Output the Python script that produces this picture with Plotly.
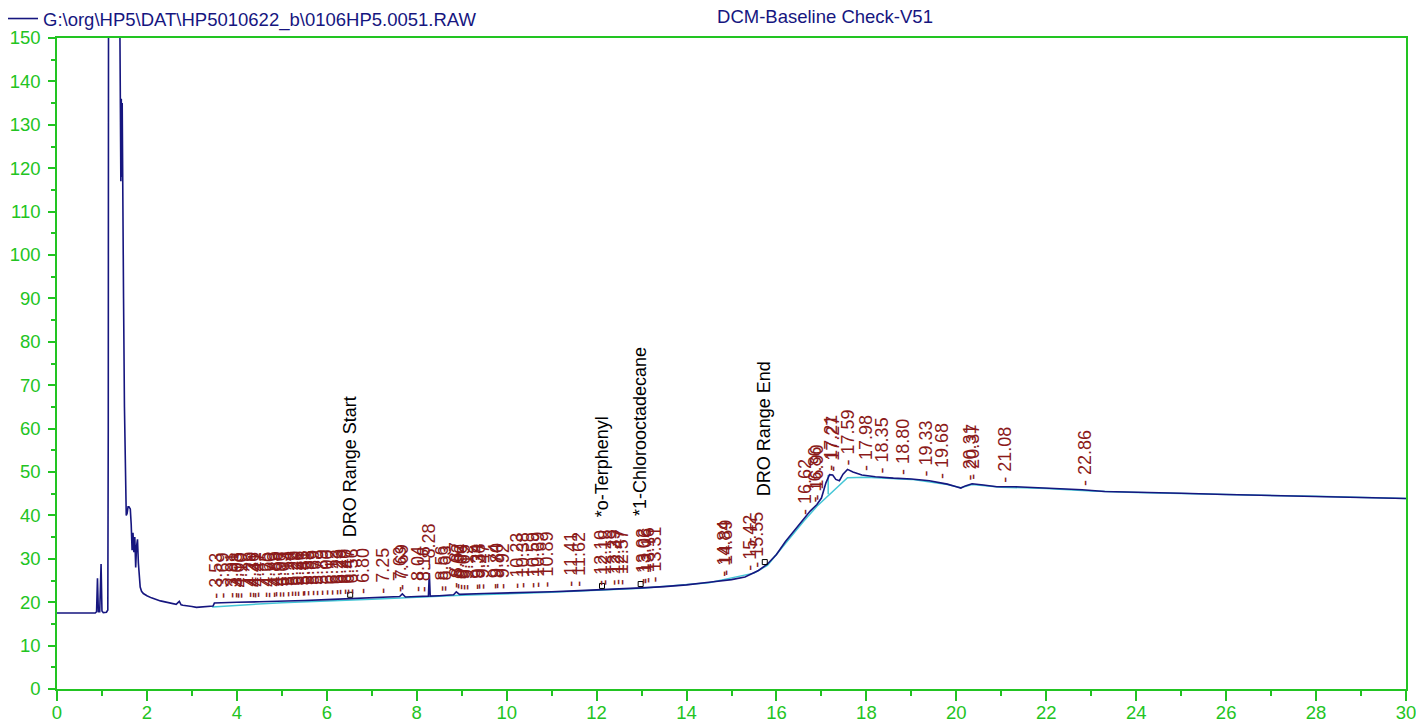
import numpy as np
import plotly.graph_objects as go

# ---- chromatogram (FID signal vs. retention time, min) ----
rt = [0.00, 0.85, 0.88, 0.90, 0.92, 0.95, 0.98, 1.00, 1.03, 1.10, 1.13, 1.14, 1.16, 1.25,
      1.38, 1.40, 1.42, 1.43, 1.44, 1.45, 1.46, 1.48, 1.50, 1.52, 1.54, 1.56, 1.58, 1.60,
      1.63, 1.65, 1.67, 1.69, 1.71, 1.73, 1.75, 1.77, 1.79, 1.81, 1.83, 1.85, 1.88, 1.92,
      2.00, 2.10, 2.30, 2.50, 2.65, 2.72, 2.76, 2.80, 2.90, 3.00, 3.10, 3.20, 3.40, 3.47,
      3.50, 3.70, 4.00, 4.50, 5.00, 5.50, 6.00, 6.50, 7.00, 7.50, 7.62, 7.68, 7.75, 8.00,
      8.26, 8.28, 8.30, 8.50, 8.82, 8.88, 8.95, 9.50, 10.00, 10.50, 11.00, 11.50, 12.00,
      12.50, 13.00, 13.50, 14.00, 14.50, 15.00, 15.30, 15.60, 15.80, 16.00, 16.20, 16.40,
      16.60, 16.75, 16.90, 17.00, 17.10, 17.18, 17.25, 17.32, 17.40, 17.48, 17.58, 17.70,
      17.90, 18.20, 18.60, 19.00, 19.40, 19.80, 20.00, 20.10, 20.20, 20.35, 20.60, 20.90,
      21.30, 21.80, 22.30, 22.80, 23.30, 24.00, 25.00, 26.00, 27.00, 28.00, 29.00, 30.00]
signal = [17.5, 17.5, 17.8, 25.5, 17.8, 17.8, 28.8, 18.0, 17.6, 17.7, 18.2, 60.0, 400.0, 900.0,
          400.0, 150.0, 117.0, 136.0, 118.0, 135.0, 110.0, 90.0, 65.0, 48.0, 40.0, 40.5, 42.0, 42.0,
          41.5, 38.0, 32.0, 36.0, 31.5, 35.0, 28.0, 33.0, 34.5, 29.0, 25.5, 23.5, 22.5, 22.0,
          21.5, 21.0, 20.3, 19.8, 19.5, 20.2, 19.4, 19.3, 19.2, 19.0, 18.8, 18.9, 19.1, 19.1,
          19.8, 19.9, 20.0, 20.1, 20.2, 20.4, 20.6, 20.8, 21.0, 21.1, 21.3, 21.9, 21.2, 21.3,
          21.4, 26.7, 21.4, 21.5, 21.7, 22.4, 21.8, 22.0, 22.1, 22.3, 22.4, 22.6, 22.8,
          23.0, 23.3, 23.6, 24.0, 24.6, 25.2, 25.8, 27.3, 28.8, 31.0, 34.0, 36.5,
          39.0, 41.0, 42.5, 44.0, 47.5, 49.4, 49.3, 48.3, 48.0, 49.5, 50.6, 50.0,
          49.3, 48.9, 48.6, 48.4, 48.0, 47.2, 46.6, 46.3, 46.8, 47.3, 47.0, 46.6,
          46.6, 46.4, 46.2, 45.9, 45.5, 45.4, 45.1, 44.8, 44.6, 44.4, 44.2, 43.9]

# ---- integration baseline ----
base_rt = [3.45, 5.00, 7.00, 9.00, 11.00, 13.00, 14.50, 15.50, 15.80, 16.20, 16.60, 16.90,
           17.58, 18.00, 19.00, 19.80, 20.10, 20.35, 21.00, 22.00, 23.00, 24.00, 25.00,
           26.00, 28.00, 30.00, None, 17.15, 17.15]
base_signal = [18.9, 19.9, 20.7, 21.6, 22.3, 23.2, 24.5, 26.7, 28.5, 33.6, 38.6, 42.1,
               48.7, 48.8, 48.3, 47.1, 46.4, 47.1, 46.5, 46.2, 45.6, 45.3, 45.0,
               44.8, 44.4, 43.9, None, 44.9, 49.3]

# ---- integrated peaks (retention times) ----
peak_rt = [3.53, 3.69, 3.91, 3.98, 4.03, 4.10, 4.29, 4.36, 4.41, 4.47, 4.65, 4.70, 4.83,
           4.89, 4.96, 5.03, 5.14, 5.22, 5.29, 5.36, 5.45, 5.51, 5.58, 5.69, 5.78, 5.89,
           6.00, 6.12, 6.23, 6.29, 6.40, 6.47, 6.56, 6.80, 7.25, 7.63, 7.69, 8.04, 8.16,
           8.28, 8.56, 8.63, 8.87, 8.92, 9.00, 9.05, 9.12, 9.34, 9.38, 9.47, 9.74, 9.80,
           9.92, 10.23, 10.38, 10.59, 10.69, 10.89, 11.41, 11.62, 12.10, 12.18, 12.39,
           12.47, 12.57, 13.02, 13.06, 13.16, 13.31, 14.84, 14.89, 15.42, 15.55, 16.62,
           16.86, 16.90, 17.21, 17.27, 17.59, 17.98, 18.35, 18.80, 19.33, 19.68, 20.31,
           20.37, 21.08, 22.86]

# ---- named compounds / range markers ----
compound_names = ["DRO Range Start", "*o-Terphenyl", "*1-Chlorooctadecane", "DRO Range End"]
compound_rt = [6.52, 12.12, 12.98, 15.74]

file_label = "G:\\org\\HP5\\DAT\\HP5010622_b\\0106HP5.0051.RAW"
method_label = "DCM-Baseline Check-V51"

# ---- styling ----
FONT = "Liberation Sans, Arial, sans-serif"
GREEN = "#22c422"
NAVY = "#16167f"
CYAN = "#44c6d6"
PEAK_RED = "#8b1a1a"
compound_shift_px = [59, 70, 70, 68]

fig = go.Figure()
fig.add_trace(go.Scatter(x=base_rt, y=base_signal, mode="lines",
                         line=dict(color=CYAN, width=1.5), showlegend=False,
                         connectgaps=False, hoverinfo="skip"))
fig.add_trace(go.Scatter(x=rt, y=signal, mode="lines", name=file_label,
                         line=dict(color=NAVY, width=1.6)))

# label anchors sit on the trace at each retention time
peak_y = np.interp(peak_rt, rt, signal)
comp_y = np.interp(compound_rt, rt, signal)

fig.add_trace(go.Scatter(x=compound_rt, y=comp_y + 0.9, mode="markers",
                         marker=dict(symbol="square-open", size=5, color="black",
                                     line=dict(width=1, color="black")),
                         showlegend=False, hoverinfo="skip"))

annotations = []
for t, yv in zip(peak_rt, peak_y):
    annotations.append(dict(x=t, y=yv, xref="x", yref="y", text=f"- {t:.2f}",
                            textangle=-90, showarrow=False, xanchor="center",
                            yanchor="bottom", yshift=2,
                            font=dict(family=FONT, size=18, color=PEAK_RED)))
for name, t, yv, sh in zip(compound_names, compound_rt, comp_y, compound_shift_px):
    annotations.append(dict(x=t, y=yv, xref="x", yref="y", text=name,
                            textangle=-90, showarrow=False, xanchor="center",
                            yanchor="bottom", yshift=sh,
                            font=dict(family=FONT, size=18, color="black")))

axis_common = dict(showline=True, linecolor=GREEN, linewidth=1.5, mirror=True,
                   showgrid=False, zeroline=False, ticks="outside", tickcolor=GREEN,
                   tickwidth=1.5, ticklabeloverflow="allow",
                   tickfont=dict(family=FONT, size=18.5, color=GREEN))

fig.update_layout(
    width=1416, height=725,
    margin=dict(l=57, r=10, t=38, b=36, autoexpand=False),
    paper_bgcolor="white", plot_bgcolor="white",
    font=dict(family=FONT),
    xaxis=dict(range=[0, 30], dtick=2, tick0=0, ticklen=10, ticklabelstandoff=-4,
               minor=dict(dtick=1, ticklen=5, ticks="outside", tickcolor=GREEN, tickwidth=1.5),
               **axis_common),
    yaxis=dict(range=[0, 150], dtick=10, tick0=0, ticklen=7, ticklabelstandoff=4,
               minor=dict(dtick=5, ticklen=4, ticks="outside", tickcolor=GREEN, tickwidth=1.5),
               **axis_common),
    title=dict(text=method_label, xref="container", yref="container",
               x=825 / 1416, xanchor="center", y=1 - 17 / 725, yanchor="middle",
               font=dict(family=FONT, size=18.5, color=NAVY)),
    legend=dict(xref="container", yref="container", x=3 / 1416, y=1.0,
                xanchor="left", yanchor="top", bgcolor="rgba(0,0,0,0)",
                font=dict(family=FONT, size=18.5, color=NAVY),
                itemwidth=30, borderwidth=0),
    showlegend=True,
    annotations=annotations,
)

fig.write_html("out.html")
